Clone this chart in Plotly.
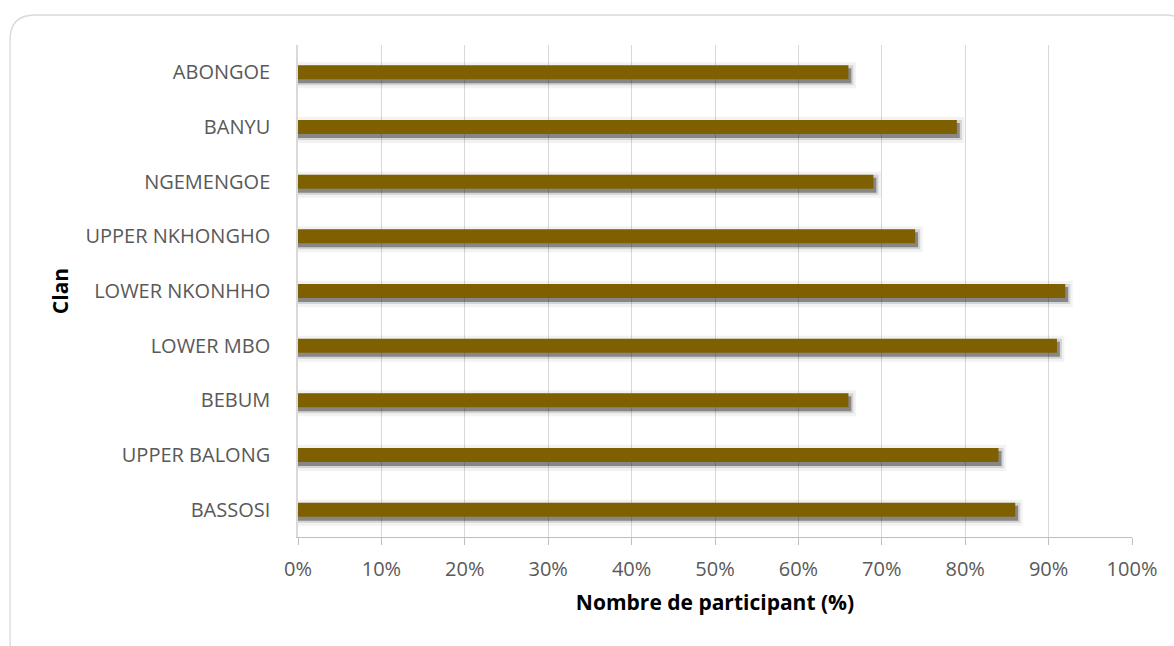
import plotly.graph_objects as go

# Clans, listed from the bottom of the chart to the top
clans = ["BASSOSI", "UPPER BALONG", "BEBUM", "LOWER MBO", "LOWER NKONHHO",
         "UPPER NKHONGHO", "NGEMENGOE", "BANYU", "ABONGOE"]
# Share of participants per clan (%)
participation = [86, 84, 66, 91, 92, 74, 69, 79, 66]

x_ticks = list(range(0, 101, 10))
x_tick_labels = [f"{t}%" for t in x_ticks]

W, H = 1174, 646
M_L, M_R, M_T, M_B = 298, 42, 45, 109
PLOT_W = W - M_L - M_R
PLOT_H = H - M_T - M_B
PX = len(clans) / PLOT_H          # one pixel in category units

BAR_COLOR = "#7F6000"
FONT = "Open Sans"


def band(top_px, bottom_px):
    """Offset/width (category units) for a band given in pixels
    measured downward from the category centre."""
    return dict(offset=-bottom_px * PX, width=(bottom_px - top_px) * PX)


fig = go.Figure()

# soft drop shadow under each bar: a few translucent layers
shadow_layers = [
    (-10, 16, 0.9, 0.05),
    (-7, 13, 0.6, 0.12),
    (-4, 11, 0.35, 0.36),
]
for top, bottom, extra, alpha in shadow_layers:
    fig.add_trace(go.Bar(
        y=clans, x=[v + extra for v in participation], orientation="h",
        marker=dict(color=f"rgba(0,0,0,{alpha})", line=dict(width=0)),
        hoverinfo="skip", showlegend=False, **band(top, bottom)))

fig.add_trace(go.Bar(
    y=clans, x=participation, orientation="h",
    marker=dict(color=BAR_COLOR, line=dict(width=0)),
    showlegend=False, name="Participation", **band(-7, 7)))


def px_x(x):
    return (x - M_L) / PLOT_W


def px_y(y):
    return (H - M_B - y) / PLOT_H


# rounded chart frame
x0, y0, x1, y1, r = 10, 15, 1190, 665, 25
frame = (
    f"M {px_x(x0 + r)},{px_y(y0)} L {px_x(x1 - r)},{px_y(y0)} "
    f"Q {px_x(x1)},{px_y(y0)} {px_x(x1)},{px_y(y0 + r)} "
    f"L {px_x(x1)},{px_y(y1 - r)} "
    f"Q {px_x(x1)},{px_y(y1)} {px_x(x1 - r)},{px_y(y1)} "
    f"L {px_x(x0 + r)},{px_y(y1)} "
    f"Q {px_x(x0)},{px_y(y1)} {px_x(x0)},{px_y(y1 - r)} "
    f"L {px_x(x0)},{px_y(y0 + r)} "
    f"Q {px_x(x0)},{px_y(y0)} {px_x(x0 + r)},{px_y(y0)} Z"
)
fig.add_shape(type="path", path=frame, xref="paper", yref="paper",
              line=dict(color="#d9d9d9", width=1.3), layer="below")

fig.update_layout(
    width=W, height=H,
    margin=dict(l=M_L, r=M_R, t=M_T, b=M_B, autoexpand=False),
    paper_bgcolor="white", plot_bgcolor="white",
    barmode="overlay",
    font=dict(family=FONT, color="#595959", size=20),
    xaxis=dict(
        range=[0, 100], tickvals=x_ticks, ticktext=x_tick_labels,
        showgrid=True, gridcolor="#d9d9d9", gridwidth=1.3,
        zeroline=False, showline=True, linecolor="#bfbfbf", linewidth=1.3,
        ticks="outside", ticklen=7, tickcolor="#bfbfbf", tickwidth=1.3,
        ticklabelstandoff=7,
        tickfont=dict(size=20, color="#595959"),
        title=dict(text="<b>Nombre de participant (%)</b>",
                   font=dict(size=21, color="#000000"), standoff=14),
        fixedrange=True,
    ),
    yaxis=dict(
        categoryorder="array", categoryarray=clans,
        showgrid=False, zeroline=False,
        showline=True, linecolor="#d9d9d9", linewidth=1.5,
        ticks="", ticklabelstandoff=22,
        tickfont=dict(size=20, color="#595959"),
        title=dict(text="<b>Clan</b>", font=dict(size=21, color="#000000"),
                   standoff=11),
        fixedrange=True,
    ),
)

fig.write_html("out.html")
